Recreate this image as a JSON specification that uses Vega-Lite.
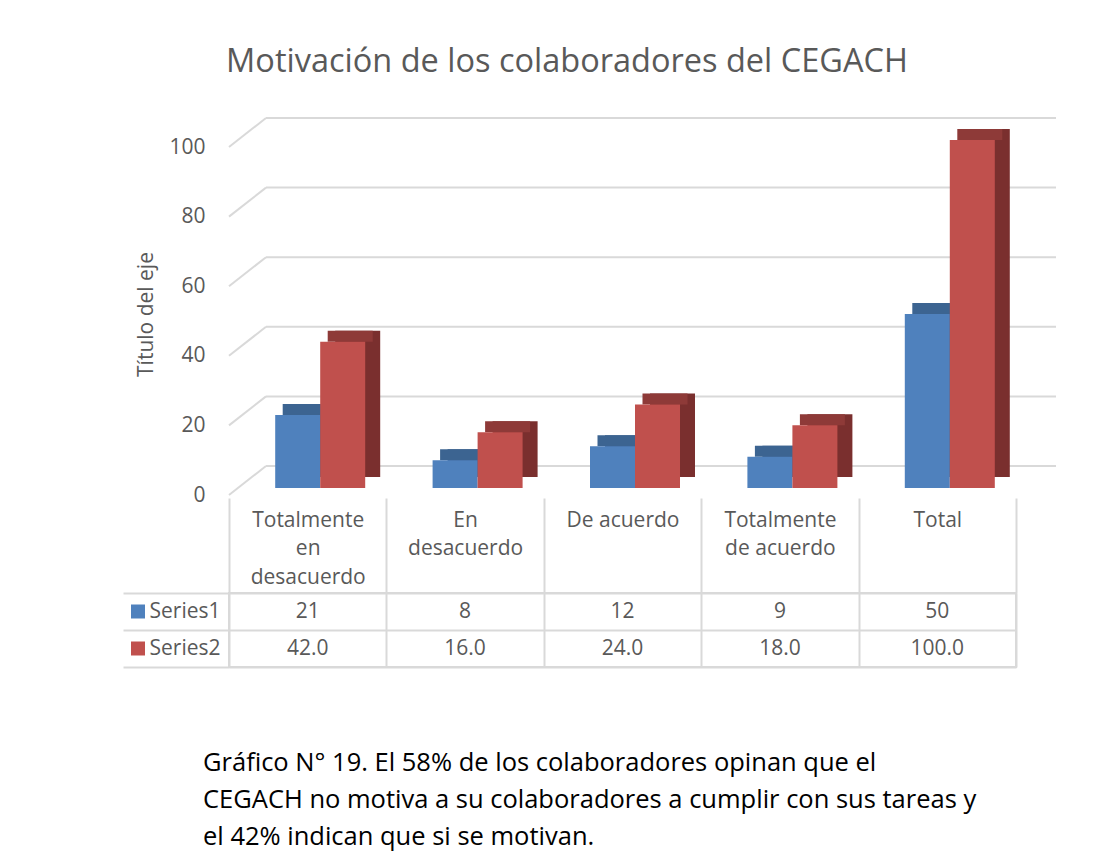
{
  "$schema": "https://vega.github.io/schema/vega-lite/v6.json",
  "background": "white",
  "padding": {"left": 121, "top": 45, "right": 0, "bottom": 0},
  "bounds": "flush",
  "spacing": 105,
  "config": {"font": "Open Sans", "view": {"stroke": null}},
  "title": {"text": "Motivación de los colaboradores del CEGACH", "fontSize": 32.5, "fontWeight": "normal", "color": "#595959", "anchor": "middle", "offset": 39, "dx": -22},
  "datasets": {
    "d": [
      {"cat": "Totalmente en desacuerdo", "series": "Series1", "value": 21},
      {"cat": "En desacuerdo", "series": "Series1", "value": 8},
      {"cat": "De acuerdo", "series": "Series1", "value": 12},
      {"cat": "Totalmente de acuerdo", "series": "Series1", "value": 9},
      {"cat": "Total", "series": "Series1", "value": 50},
      {"cat": "Totalmente en desacuerdo", "series": "Series2", "value": 42},
      {"cat": "En desacuerdo", "series": "Series2", "value": 16},
      {"cat": "De acuerdo", "series": "Series2", "value": 24},
      {"cat": "Totalmente de acuerdo", "series": "Series2", "value": 18},
      {"cat": "Total", "series": "Series2", "value": 100}
    ],
    "grid": [{"v": 0}, {"v": 20}, {"v": 40}, {"v": 60}, {"v": 80}, {"v": 100}]
  },
  "vconcat": [
    {
      "width": 787,
      "height": 348,
      "resolve": {"scale": {"x": "independent"}},
      "layer": [
        {
          "data": {"name": "grid"},
          "mark": {"type": "rule", "color": "#D9D9D9", "strokeWidth": 2, "xOffset": 37, "x2Offset": 40, "yOffset": -22},
          "encoding": {
            "x": {"datum": 0, "type": "quantitative", "scale": {"domain": [0, 1], "nice": false, "zero": false}, "axis": null},
            "x2": {"datum": 1},
            "y": {"field": "v", "type": "quantitative", "scale": {"domain": [0, 100], "nice": false},
              "axis": {"values": [0, 20, 40, 60, 80, 100], "domain": false, "ticks": false, "grid": false, "labelPadding": 24, "labelOffset": 7, "labelFontSize": 21, "labelColor": "#595959", "title": "Título del eje", "titleFontSize": 21, "titleFontWeight": "normal", "titleColor": "#595959", "titlePadding": 12}}
          }
        },
        {
          "data": {"name": "grid"},
          "mark": {"type": "rule", "color": "#D9D9D9", "strokeWidth": 2, "x2Offset": 37, "yOffset": 7, "y2Offset": -22},
          "encoding": {
            "x": {"datum": 0, "type": "quantitative", "scale": {"domain": [0, 1], "nice": false, "zero": false}, "axis": null},
            "x2": {"datum": 0},
            "y": {"field": "v", "type": "quantitative"},
            "y2": {"field": "v"}
          }
        },
        {
          "data": {"name": "d"},
          "transform": [{"filter": "datum.series === 'Series1'"}],
          "mark": {"type": "bar", "width": 45, "xOffset": 5, "yOffset": -11, "y2Offset": -11, "color": "#385D8A"},
          "encoding": {
            "x": {"field": "cat", "type": "nominal", "sort": null, "scale": {"paddingInner": 0, "paddingOuter": 0}, "axis": null},
            "y": {"field": "value", "type": "quantitative"},
            "y2": {"datum": 0}
          }
        },
        {
          "data": {"name": "d"},
          "transform": [{"filter": "datum.series === 'Series1'"}],
          "mark": {"type": "bar", "width": 45, "xOffset": -2.5, "yOffset": -11, "color": "#3C6491"},
          "encoding": {
            "x": {"field": "cat", "type": "nominal", "sort": null, "scale": {"paddingInner": 0, "paddingOuter": 0}, "axis": null},
            "y": {"field": "value", "type": "quantitative"},
            "y2": {"field": "value"}
          }
        },
        {
          "data": {"name": "d"},
          "transform": [{"filter": "datum.series === 'Series1'"}],
          "mark": {"type": "bar", "width": 45, "xOffset": -10, "color": "#4F81BD"},
          "encoding": {
            "x": {"field": "cat", "type": "nominal", "sort": null, "scale": {"paddingInner": 0, "paddingOuter": 0}, "axis": null},
            "y": {"field": "value", "type": "quantitative"}
          }
        },
        {
          "data": {"name": "d"},
          "transform": [{"filter": "datum.series === 'Series2'"}],
          "mark": {"type": "bar", "width": 45, "xOffset": 50, "yOffset": -11, "y2Offset": -11, "color": "#7A2F2E"},
          "encoding": {
            "x": {"field": "cat", "type": "nominal", "sort": null, "scale": {"paddingInner": 0, "paddingOuter": 0}, "axis": null},
            "y": {"field": "value", "type": "quantitative"},
            "y2": {"datum": 0}
          }
        },
        {
          "data": {"name": "d"},
          "transform": [{"filter": "datum.series === 'Series2'"}],
          "mark": {"type": "bar", "width": 45, "xOffset": 42.5, "yOffset": -11, "color": "#8E3A38"},
          "encoding": {
            "x": {"field": "cat", "type": "nominal", "sort": null, "scale": {"paddingInner": 0, "paddingOuter": 0}, "axis": null},
            "y": {"field": "value", "type": "quantitative"},
            "y2": {"field": "value"}
          }
        },
        {
          "data": {"name": "d"},
          "transform": [{"filter": "datum.series === 'Series2'"}],
          "mark": {"type": "bar", "width": 45, "xOffset": 35, "color": "#C0504D"},
          "encoding": {
            "x": {"field": "cat", "type": "nominal", "sort": null, "scale": {"paddingInner": 0, "paddingOuter": 0}, "axis": null},
            "y": {"field": "value", "type": "quantitative"}
          }
        }
      ]
    },
    {
      "width": 787,
      "height": 74,
      "view": {"stroke": "#D9D9D9", "strokeWidth": 2},
      "data": {"name": "d"},
      "title": {
        "text": ["Gráfico N° 19. El 58% de los colaboradores  opinan que el", "CEGACH no motiva a su colaboradores a cumplir con sus tareas y", "el 42% indican que si se  motivan."],
        "orient": "bottom", "anchor": "start", "frame": "group", "dx": -26, "offset": 83,
        "fontSize": 25.5, "lineHeight": 37, "fontWeight": "normal", "color": "#000000"
      },
      "layer": [
        {
          "transform": [{"filter": "datum.series === 'Series1'"}],
          "mark": {"type": "text", "fontSize": 21, "color": "#595959"},
          "encoding": {
            "x": {"field": "cat", "type": "nominal", "sort": null, "scale": {"paddingInner": 0, "paddingOuter": 0},
              "axis": {"orient": "top", "title": null, "domain": false, "tickBand": "extent", "tickSize": 95, "tickColor": "#D9D9D9", "tickWidth": 2, "grid": true, "gridColor": "#D9D9D9", "gridWidth": 2,
                "labelExpr": "datum.value === 'Totalmente en desacuerdo' ? ['Totalmente','en','desacuerdo'] : datum.value === 'En desacuerdo' ? ['En','desacuerdo'] : datum.value === 'Totalmente de acuerdo' ? ['Totalmente','de acuerdo'] : datum.value",
                "labelBaseline": "top", "labelPadding": -11, "labelFontSize": 21, "labelColor": "#595959", "labelLineHeight": 28.5, "labelAngle": 0}},
            "y": {"field": "series", "type": "nominal", "scale": {"domain": ["Series1", "Series2"], "paddingInner": 0, "paddingOuter": 0},
              "axis": {"title": null, "domain": false, "tickBand": "extent", "tickSize": 106, "tickColor": "#D9D9D9", "tickWidth": 2, "grid": true, "gridColor": "#D9D9D9", "gridWidth": 2, "labelPadding": -97, "labelFontSize": 21, "labelColor": "#595959"}},
            "text": {"field": "value", "type": "quantitative", "format": "d"}
          }
        },
        {
          "transform": [{"filter": "datum.series === 'Series2'"}],
          "mark": {"type": "text", "fontSize": 21, "color": "#595959"},
          "encoding": {
            "x": {"field": "cat", "type": "nominal", "sort": null},
            "y": {"field": "series", "type": "nominal"},
            "text": {"field": "value", "type": "quantitative", "format": ".1f"}
          }
        },
        {
          "transform": [{"filter": "datum.cat === 'Total'"}],
          "mark": {"type": "point", "shape": "square", "filled": true, "size": 196, "opacity": 1, "xOffset": -91},
          "encoding": {
            "x": {"datum": "Totalmente en desacuerdo", "type": "nominal", "bandPosition": 0},
            "y": {"field": "series", "type": "nominal"},
            "color": {"condition": {"test": "datum.series === 'Series1'", "value": "#4F81BD"}, "value": "#C0504D"}
          }
        }
      ]
    }
  ]
}
